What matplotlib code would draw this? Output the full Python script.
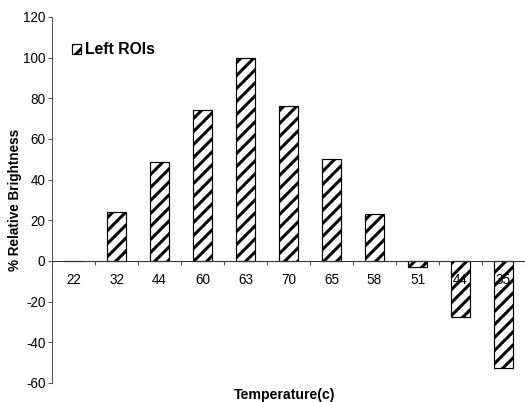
import numpy as np
import matplotlib.pyplot as plt

# data
temps = ['22', '32', '44', '60', '63', '70', '65', '58', '51', '44', '35']
brightness = [0, 24, 48.5, 74.5, 100, 76, 50, 23, -3, -27.5, -52.5]

DPI = 78  # low dpi so the hatch spacing matches the reference stripes
plt.rcParams['font.family'] = ['Liberation Sans', 'DejaVu Sans']
plt.rcParams['hatch.linewidth'] = 2.8
plt.rcParams['axes.unicode_minus'] = False

fig = plt.figure(figsize=(525 / DPI, 402 / DPI), dpi=DPI)
ax = fig.add_axes([52 / 525, 1 - 383 / 402, 1 - 52 / 525, (383 - 17) / 402])

x = np.arange(len(temps))
bars = ax.bar(x, brightness, width=0.42, color='white', edgecolor='black',
              linewidth=1.1, hatch='//', label='Left ROIs')

ax.set_xlim(-0.5, len(temps) - 0.5)
ax.set_ylim(-60, 120)
ax.set_yticks(np.arange(-60, 121, 20))

# category boundaries carry the tick marks, centres carry the labels
ax.set_xticks(np.arange(-0.5, len(temps), 1.0))
ax.set_xticklabels([])
ax.set_xticks(x, minor=True)
ax.set_xticklabels(temps, minor=True)
ax.tick_params(axis='x', which='minor', length=0, pad=11, labelsize=12.5)
ax.tick_params(axis='x', which='major', direction='out', length=4, width=1, color='#555555')
ax.tick_params(axis='y', direction='out', length=4, width=1, color='#555555', labelsize=12.5, pad=2)

ax.spines['top'].set_visible(False)
ax.spines['right'].set_visible(False)
ax.spines['bottom'].set_position(('data', 0))
ax.spines['left'].set_color('#555555')
ax.spines['bottom'].set_color('#333333')
ax.spines['left'].set_linewidth(1)
ax.spines['bottom'].set_linewidth(1)

ax.set_ylabel('% Relative Brightness', fontsize=12.5, fontweight='bold', labelpad=1)
fig.text(285 / 525, 1 - 395 / 402, 'Temperature(c)', fontsize=13, fontweight='bold',
         ha='center', va='center')

leg = fig.legend(handles=[bars], loc='center left', bbox_to_anchor=(72 / 525, 1 - 50 / 402),
                 frameon=False, fontsize=14.5, handlelength=0.6, handleheight=0.6,
                 handletextpad=0.25, borderpad=0, borderaxespad=0)
for t in leg.get_texts():
    t.set_fontweight('bold')

fig.savefig('out.png', dpi=DPI)
